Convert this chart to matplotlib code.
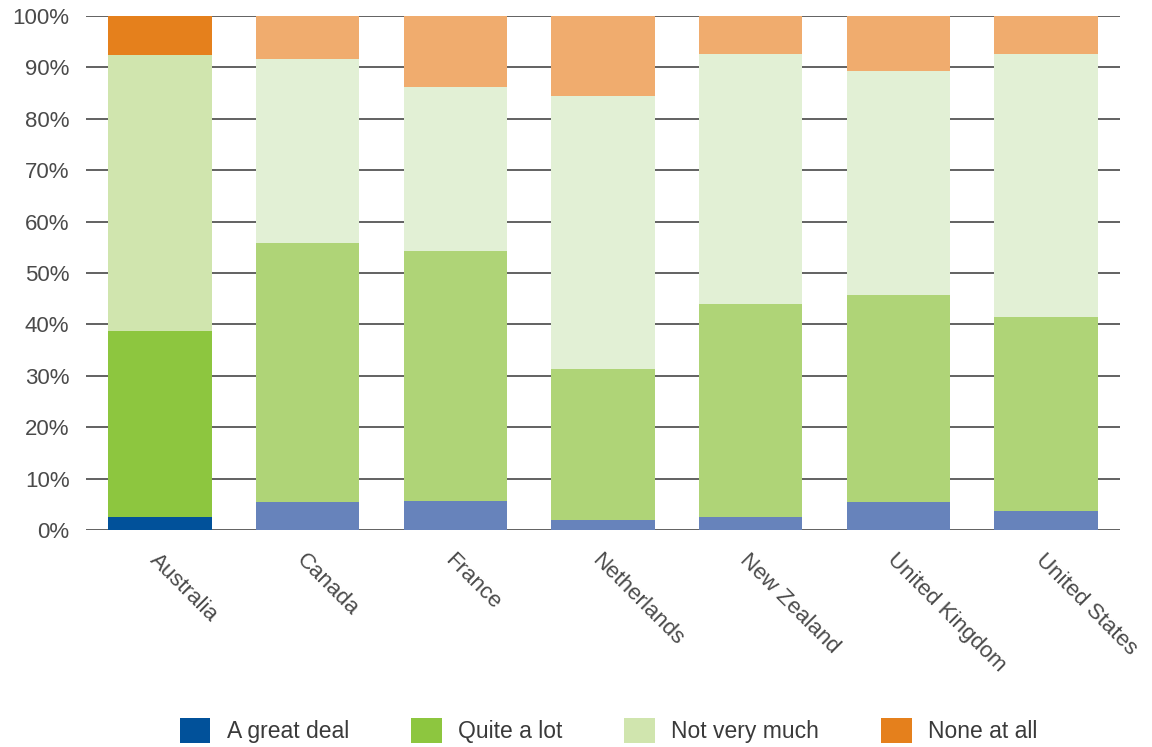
import matplotlib
matplotlib.use("Agg")
import matplotlib.pyplot as plt
from matplotlib.patches import Patch
import numpy as np

plt.rcParams['font.family'] = ['Liberation Sans', 'DejaVu Sans']

countries = ["Australia", "Canada", "France", "Netherlands",
             "New Zealand", "United Kingdom", "United States"]
series = ["A great deal", "Quite a lot", "Not very much", "None at all"]

great_deal = [2.6, 5.4, 5.7, 1.9, 2.5, 5.5, 3.6]
quite_a_lot = [36.2, 50.4, 48.6, 29.4, 41.4, 40.3, 37.8]
not_very_much = [53.7, 35.8, 31.8, 53.2, 48.7, 43.4, 51.2]
none_at_all = [7.5, 8.4, 13.9, 15.5, 7.4, 10.8, 7.4]

yticks = [0, 10, 20, 30, 40, 50, 60, 70, 80, 90, 100]
ytick_labels = [f"{v}%" for v in yticks]

# Strong colours for the highlighted country, muted tints for the rest
strong = ["#01519A", "#8DC63F", "#D0E5AE", "#E5801C"]
muted = ["#6783BB", "#AFD477", "#E2F0D5", "#F0AC6E"]
text_color = "#4a4a4a"

fig = plt.figure(figsize=(11.52, 7.47), dpi=100)
ax = fig.add_axes([0.0747, 0.2905, 0.8973, 0.6881])

x = np.arange(len(countries))
bottom = np.zeros(len(countries))
for i, vals in enumerate([great_deal, quite_a_lot, not_very_much, none_at_all]):
    cols = [strong[i] if c == "Australia" else muted[i] for c in countries]
    ax.bar(x, vals, width=0.7, bottom=bottom, color=cols, linewidth=0, zorder=3)
    bottom += np.array(vals)

for v in yticks:
    ax.axhline(v, color="#555555", linewidth=1.3, zorder=1)

ax.set_xlim(-0.5, len(countries) - 0.5)
ax.set_ylim(0, 100)
ax.set_yticks(yticks)
ax.set_yticklabels(ytick_labels, fontsize=16, color=text_color)
ax.set_xticks(x)
ax.set_xticklabels(countries, rotation=-45, ha="left", va="top",
                   rotation_mode="anchor", fontsize=16, color=text_color)
ax.tick_params(axis="both", length=0)
ax.tick_params(axis="x", pad=14)
ax.tick_params(axis="y", pad=12)
for s in ax.spines.values():
    s.set_visible(False)

handles = [Patch(facecolor=c, edgecolor="none") for c in strong]
fig.legend(handles, series, loc="center", bbox_to_anchor=(0.528, 0.022),
           ncol=4, frameon=False, fontsize=16.5, handlelength=1.35,
           handleheight=1.35, handletextpad=0.7, columnspacing=2.7,
           labelcolor="#3a3a3a")

fig.savefig("out.png", dpi=100)
